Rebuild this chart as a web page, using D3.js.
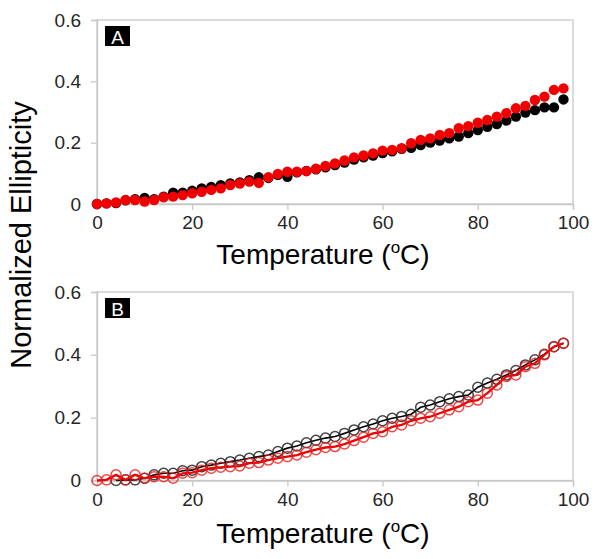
<!DOCTYPE html>
<html><head><meta charset="utf-8">
<script src="https://cdn.jsdelivr.net/npm/d3@7"></script>
<style>body{margin:0;background:#fff}svg{display:block}text{font-family:"Liberation Sans",Arial,sans-serif}</style>
</head><body>
<svg id="chart" width="602" height="559"></svg>
<script>
const temps = d3.range(0, 100, 2);
const xTicks = [0, 20, 40, 60, 80, 100];
const yTicks = [0, 0.2, 0.4, 0.6];
const yTickLabels = ["0", "0.2", "0.4", "0.6"];
const panelLabels = ["A", "B"];
const xTitle = "Temperature (";
const yTitle = "Normalized Ellipticity";

// Panel A: filled circles
const aBlack = [0,0.002,0.003,0.012,0.016,0.02,0.016,0.024,0.037,0.037,0.043,0.051,0.056,0.061,0.067,0.07,0.078,0.087,0.085,0.095,0.089,0.103,0.108,0.113,0.12,0.127,0.135,0.145,0.152,0.158,0.166,0.172,0.18,0.183,0.192,0.2,0.207,0.214,0.22,0.231,0.241,0.252,0.261,0.272,0.285,0.298,0.306,0.315,0.315,0.341];
const aRed = [0,0.002,0.005,0.013,0.013,0.008,0.013,0.022,0.024,0.029,0.035,0.04,0.046,0.051,0.062,0.067,0.073,0.069,0.087,0.098,0.105,0.105,0.107,0.115,0.124,0.132,0.142,0.152,0.158,0.165,0.174,0.176,0.182,0.198,0.209,0.214,0.225,0.231,0.247,0.254,0.265,0.274,0.285,0.296,0.312,0.32,0.339,0.35,0.372,0.377];

// Panel B: open circles with lines (black starts at 4 °C)
const bBlackTemps = d3.range(4, 100, 2);
const bBlack = [0,0.002,0.002,0.007,0.018,0.023,0.023,0.031,0.033,0.044,0.049,0.055,0.06,0.065,0.071,0.076,0.081,0.092,0.103,0.11,0.12,0.128,0.135,0.14,0.15,0.161,0.171,0.18,0.19,0.198,0.204,0.211,0.233,0.24,0.251,0.26,0.267,0.272,0.297,0.31,0.322,0.336,0.35,0.368,0.384,0.402,0.426,0.437];
const bRed = [0,0.002,0.018,0.002,0.018,0.007,0.012,0.012,0.007,0.023,0.025,0.033,0.039,0.042,0.044,0.046,0.055,0.057,0.065,0.071,0.076,0.081,0.09,0.098,0.105,0.108,0.116,0.127,0.138,0.15,0.155,0.171,0.177,0.19,0.198,0.203,0.214,0.225,0.235,0.251,0.256,0.278,0.304,0.331,0.336,0.362,0.373,0.4,0.426,0.437];

const svg = d3.select("#chart");
const frameColor = "#c8c8c8";
const tickColor = "#262626";

const x = d3.scaleLinear().domain([0, 100]).range([97, 573]);

const panels = [
  {label: panelLabels[0], top: 20, bottom: 204, titleOff: 60, type: "filled",
   series: [{t: temps, v: aBlack, color: "#000"}, {t: temps, v: aRed, color: "#f00000"}]},
  {label: panelLabels[1], top: 292, bottom: 480.5, titleOff: 62, type: "open",
   series: [{t: bBlackTemps, v: bBlack, color: "#000", stroke: "#222", op: 0.85, lw: 1.6},
            {t: temps, v: bRed, color: "#f00000", stroke: "#e61c1c", op: 0.8, lw: 2.3}]}
];

panels.forEach(p => {
  const y = d3.scaleLinear().domain([0, 0.6]).range([p.bottom, p.top]);
  const g = svg.append("g");
  g.append("rect").attr("x", x(0)).attr("y", y(0.6)).attr("width", x(100) - x(0)).attr("height", y(0) - y(0.6))
    .attr("fill", "none").attr("stroke", frameColor).attr("stroke-width", 1.3);
  const xa = g.append("g").attr("transform", `translate(0,${y(0)})`)
    .call(d3.axisBottom(x).tickValues(xTicks).tickSize(6).tickPadding(6).tickFormat(d3.format("d")));
  xa.select(".domain").attr("stroke", frameColor).attr("stroke-width", 1.3);
  xa.selectAll(".tick line").attr("stroke", frameColor).attr("stroke-width", 1.3);
  xa.selectAll(".tick text").attr("font-size", 19).attr("fill", tickColor).attr("font-family", "Liberation Sans, Arial, sans-serif");
  const ya = g.append("g").attr("transform", `translate(${x(0)},0)`)
    .call(d3.axisLeft(y).tickValues(yTicks).tickSize(6).tickPadding(10).tickFormat((d, i) => yTickLabels[i]));
  ya.select(".domain").attr("stroke", frameColor).attr("stroke-width", 1.3);
  ya.selectAll(".tick line").attr("stroke", frameColor).attr("stroke-width", 1.3);
  ya.selectAll(".tick text").attr("font-size", 19).attr("fill", tickColor).attr("font-family", "Liberation Sans, Arial, sans-serif");

  const tt = g.append("text").attr("x", 323).attr("y", y(0) + p.titleOff)
    .attr("text-anchor", "middle").attr("font-size", 28).attr("fill", "#000");
  tt.append("tspan").text(xTitle);
  tt.append("tspan").attr("font-size", 17).attr("dy", -11).text("o");
  tt.append("tspan").attr("dy", 11).text("C)");

  g.append("rect").attr("x", x(0) + 8).attr("y", y(0.6) + 6).attr("width", 25).attr("height", 20).attr("fill", "#000");
  g.append("text").attr("x", x(0) + 20.5).attr("y", y(0.6) + 23.5).attr("text-anchor", "middle")
    .attr("font-size", 19).attr("fill", "#fff").text(p.label);

  p.series.forEach(s => {
    const pts = s.t.map((t, i) => [t, s.v[i]]);
    if (p.type === "filled") {
      g.append("g").selectAll("circle").data(pts).join("circle")
        .attr("cx", d => x(d[0])).attr("cy", d => y(d[1])).attr("r", 5.2).attr("fill", s.color);
    } else {
      g.append("path").datum(pts)
        .attr("d", d3.line().x(d => x(d[0])).y(d => y(d[1])))
        .attr("fill", "none").attr("stroke", s.color).attr("stroke-width", s.lw);
      g.append("g").selectAll("circle").data(pts).join("circle")
        .attr("cx", d => x(d[0])).attr("cy", d => y(d[1])).attr("r", 5)
        .attr("fill", "none").attr("stroke", s.stroke).attr("stroke-opacity", s.op).attr("stroke-width", 1.5);
    }
  });
});

svg.append("text").attr("transform", "translate(31,235) rotate(-90)").attr("text-anchor", "middle")
  .attr("font-size", 29).attr("fill", "#000").text(yTitle);
</script>
</body></html>
